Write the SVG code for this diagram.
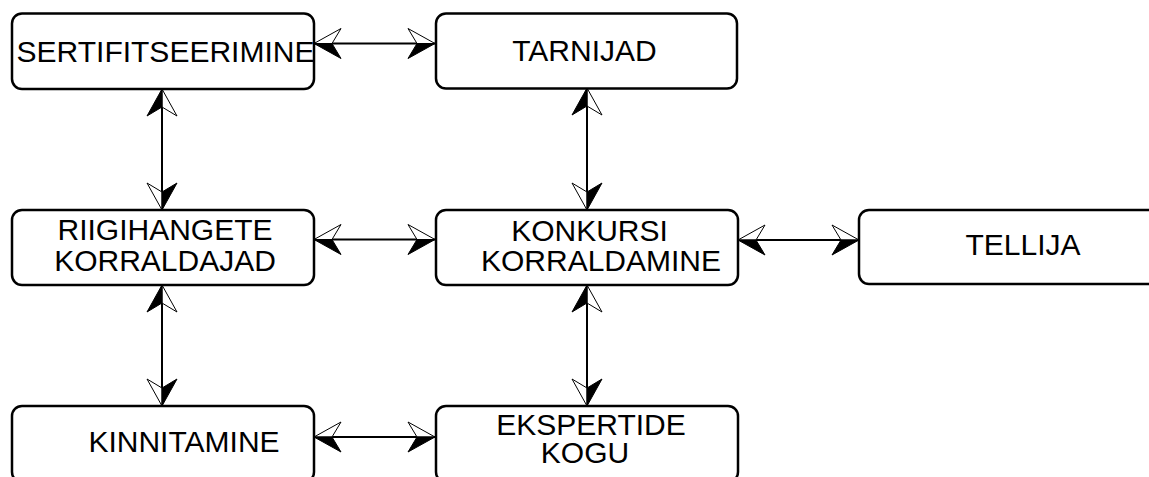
<svg xmlns="http://www.w3.org/2000/svg" width="1149" height="477" viewBox="0 0 1149 477">
  <style>
    .box { fill: #ffffff; stroke: #000000; stroke-width: 2.5; }
    .lbl { font-family: "Liberation Sans", Arial, sans-serif; font-size: 30px; fill: #000000; text-anchor: middle; }
    .link { fill: none; stroke: #000000; stroke-width: 2; }
    .solid { fill: #000000; stroke: #000000; stroke-width: 1; stroke-linejoin: miter; }
    .hollow { fill: #ffffff; stroke: #000000; stroke-width: 1; stroke-linejoin: miter; }
  </style>
  <defs>
    <!-- split arrowhead, tip at origin pointing +x, solid half on +y -->
    <marker id="headA" markerUnits="userSpaceOnUse" viewBox="-30 -20 40 40" markerWidth="40" markerHeight="40" refX="0" refY="0" orient="auto" overflow="visible">
      <polygon class="hollow" points="0,0 -27,-15 -18,0"/>
      <polygon class="solid" points="0,0 -27,15 -18,0"/>
    </marker>
    <!-- same head with the solid half on -y -->
    <marker id="headB" markerUnits="userSpaceOnUse" viewBox="-30 -20 40 40" markerWidth="40" markerHeight="40" refX="0" refY="0" orient="auto-start-reverse" overflow="visible">
      <polygon class="hollow" points="0,0 -27,15 -18,0"/>
      <polygon class="solid" points="0,0 -27,-15 -18,0"/>
    </marker>
  </defs>

  <g id="connectors">
    <path class="link" d="M314,43.5 H435" marker-start="url(#headB)" marker-end="url(#headA)"/>
    <path class="link" d="M314,239.5 H435" marker-start="url(#headB)" marker-end="url(#headA)"/>
    <path class="link" d="M738,240 H859" marker-start="url(#headB)" marker-end="url(#headA)"/>
    <path class="link" d="M314,437 H435" marker-start="url(#headB)" marker-end="url(#headA)"/>
    <path class="link" d="M162,89 V210" marker-start="url(#headB)" marker-end="url(#headB)"/>
    <path class="link" d="M162,285 V406" marker-start="url(#headB)" marker-end="url(#headB)"/>
    <path class="link" d="M587,88 V210" marker-start="url(#headB)" marker-end="url(#headB)"/>
    <path class="link" d="M587,285 V406" marker-start="url(#headB)" marker-end="url(#headB)"/>
  </g>

  <g id="sertifitseerimine">
    <rect class="box" x="12" y="13.5" width="302" height="75.5" rx="10"/>
    <text class="lbl" x="165.5" y="61.5">SERTIFITSEERIMINE</text>
  </g>
  <g id="tarnijad">
    <rect class="box" x="436" y="13.5" width="301" height="75" rx="10"/>
    <text class="lbl" x="584.5" y="60.5">TARNIJAD</text>
  </g>
  <g id="riigihangete-korraldajad">
    <rect class="box" x="12" y="210" width="302" height="75" rx="10"/>
    <text class="lbl"><tspan x="165" y="240">RIIGIHANGETE</tspan><tspan x="165" y="271">KORRALDAJAD</tspan></text>
  </g>
  <g id="konkursi-korraldamine">
    <rect class="box" x="436" y="210" width="302" height="75" rx="10"/>
    <text class="lbl"><tspan x="589.5" y="241">KONKURSI</tspan><tspan x="601" y="271">KORRALDAMINE</tspan></text>
  </g>
  <g id="tellija">
    <rect class="box" x="859" y="210" width="302" height="74" rx="10"/>
    <text class="lbl" x="1023" y="255">TELLIJA</text>
  </g>
  <g id="kinnitamine">
    <rect class="box" x="12" y="406" width="302" height="76" rx="10"/>
    <text class="lbl" x="184" y="452">KINNITAMINE</text>
  </g>
  <g id="ekspertide-kogu">
    <rect class="box" x="436" y="406" width="302" height="76" rx="10"/>
    <text class="lbl"><tspan x="591" y="435">EKSPERTIDE</tspan><tspan x="585" y="463">KOGU</tspan></text>
  </g>
</svg>
